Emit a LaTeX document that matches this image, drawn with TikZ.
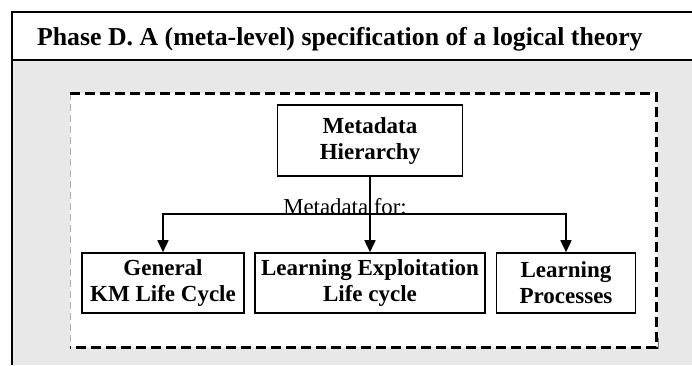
\documentclass[tikz,border=0pt]{standalone}
\usepackage{fontspec}
\setmainfont{Liberation Serif}
\usetikzlibrary{arrows.meta}
\definecolor{panelgray}{HTML}{E8E8E8}

\begin{document}
\begin{tikzpicture}[x=1pt,y=-1pt,
                line width=1.6pt,
                blk/.style={draw,fill=white,align=center,inner sep=0pt,
                    font=\fontsize{23}{26}\selectfont\bfseries},
                arr/.style={-{Triangle[length=12pt,width=11pt]}},
                dsh/.style={line width=3pt,dash pattern=on 10pt off 5pt}]
    \useasboundingbox (0,0) rectangle (692,365);
    % frame with title band
    \fill[panelgray] (12,60) rectangle (692,365);
    \draw (12,365) -- (12,12) -- (692,12);
    \draw (12,60) -- (692,60);
    \node[anchor=base west,font=\fontsize{25.8}{28}\selectfont\bfseries] (title) at (33,45)
        {Phase D. A (meta-level) specification of a logical theory};
    % dashed area
    \fill[white] (70,93) rectangle (657,347);
    \draw[gray!60,line width=0.8pt,dash pattern=on 7pt off 4pt] (70,93) -- (70,347);
    \draw[dsh] (70,93) -- (656,93) -- (656,347) -- (70,347);
    \draw[gray,line width=0.8pt] (658,338) -- (658,349);
    % boxes
    \node[blk,minimum width=185pt,minimum height=71pt] (meta) at (370,140.5) {Metadata\\Hierarchy};
    \node[blk,minimum width=162pt,minimum height=60pt] (general) at (163,283) {General\\KM Life Cycle};
    \node[blk,minimum width=230pt,minimum height=60pt] (exploit) at (370,283) {Learning Exploitation\\Life cycle};
    \node[blk,minimum width=139pt,minimum height=60pt] (process) at (566,283) {Learning\\Processes};
    % connectors
    \coordinate (split) at (370,214);
    \node[anchor=base,font=\fontsize{22.8}{24}\selectfont] (label) at (345,214) {Metadata for:};
    \draw[arr] (meta) -- (exploit);
    \draw[arr] (split) -| (general);
    \draw[arr] (split) -| (process);
\end{tikzpicture}
\end{document}
